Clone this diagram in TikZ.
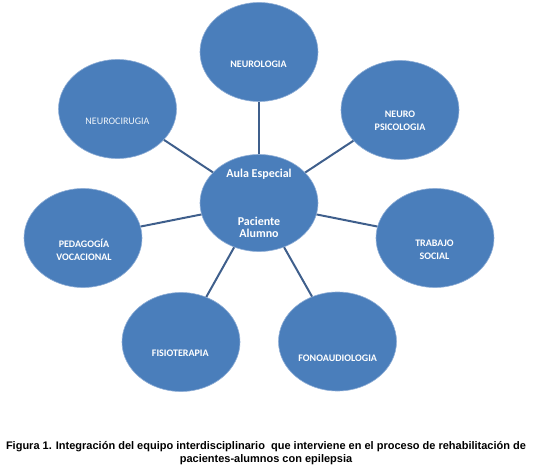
\documentclass[tikz,border=0pt]{standalone}
\usepackage{fontspec}
\setmainfont{Carlito}
\newfontfamily\capfont{Liberation Sans}
\usetikzlibrary{shapes.geometric}
\definecolor{ellfill}{HTML}{4A7EBB}
\definecolor{ellrim}{HTML}{8FAED6}
\definecolor{linkcol}{HTML}{3F5F8C}
\tikzset{
  bubble/.style={ellipse, fill=ellfill, draw=ellrim, line width=0.6pt, minimum width=118pt, minimum height=99pt, inner sep=0pt},
  hub/.style={bubble, minimum width=118pt, minimum height=97pt},
  lbl/.style={text=white, font=\fontsize{10}{13}\selectfont\bfseries, align=center, inner sep=0pt},
  lbllight/.style={text=white!92!ellfill, font=\fontsize{10}{13}\selectfont, align=center, inner sep=0pt},
  hublbl/.style={text=white, font=\fontsize{12}{11.5}\selectfont\bfseries, align=center, inner sep=0pt},
  link/.style={draw=linkcol, line width=2pt},
  caption/.style={font=\capfont\fontsize{11}{13}\selectfont\bfseries, align=center, inner sep=0pt}
}
\begin{document}
\begin{tikzpicture}[x=1pt,y=-1pt]
\useasboundingbox (0,0) rectangle (533,473);
% bubbles
\node[hub] (c) at (259,203) {};
\node[bubble] (neuro) at (259,52) {};
\node[bubble] (psico) at (400,110) {};
\node[bubble] (trab) at (435,238) {};
\node[bubble] (fono) at (337.5,341.5) {};
\node[bubble] (fisio) at (181,342) {};
\node[bubble] (peda) at (83,238) {};
\node[bubble] (ciru) at (117.5,109) {};
% connectors
\foreach \n in {neuro,psico,trab,fono,fisio,peda,ciru}
  \draw[link] (c) -- (\n);
% labels
\node[hublbl] (t0a) at (259,174) {Aula Especial};
\node[hublbl] (t0b) at (259,227.5) {Paciente\\Alumno};
\node[lbl] (t1) at (258.5,64) {NEUROLOGIA};
\node[lbl] (t2) at (400,120.5) {NEURO\\PSICOLOGIA};
\node[lbl] (t3) at (434.5,249.5) {TRABAJO\\SOCIAL};
\node[lbl] (t4) at (337.7,358) {FONOAUDIOLOGIA};
\node[lbl] (t5) at (180.3,353) {FISIOTERAPIA};
\node[lbl] (t6) at (84,249.5) {PEDAGOGÍA\\VOCACIONAL};
\node[lbllight] (t7) at (117.5,121) {NEUROCIRUGIA};
% caption
\node[caption] (cap) at (266,453) {Figura 1. Integración del equipo interdisciplinario\ \ que interviene en el proceso de rehabilitación de\\pacientes-alumnos con epilepsia};
\end{tikzpicture}
\end{document}
